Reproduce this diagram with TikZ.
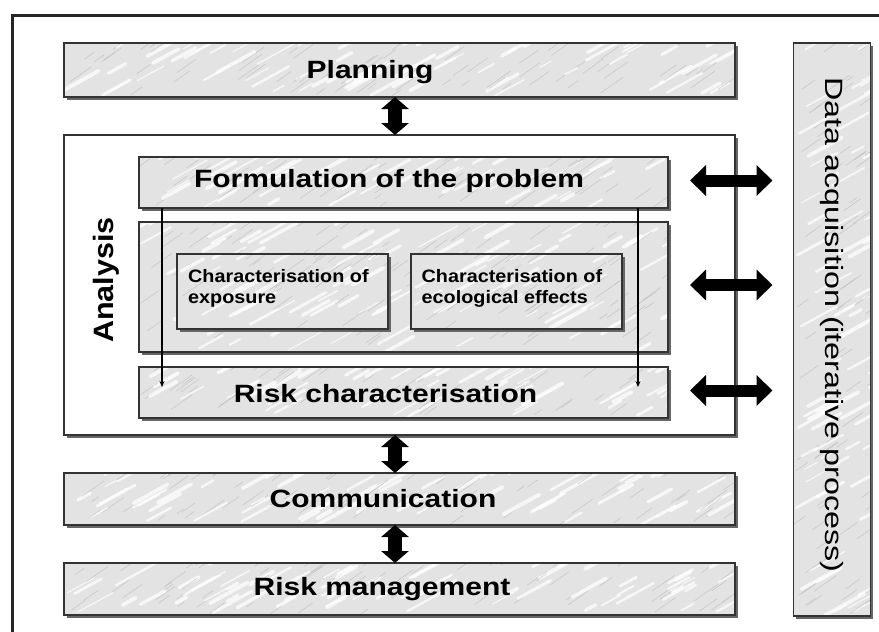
\documentclass[tikz,border=0pt]{standalone}
\usepackage{fontspec}
\setmainfont{Liberation Sans}
\usetikzlibrary{arrows.meta,shadows,calc}
\begin{document}
\begin{tikzpicture}[x=1pt,y=-1pt,
  marble/.style={rectangle, draw=black!80, line width=1.6pt, fill=black!11, inner sep=0pt, outer sep=0pt,
    drop shadow={shadow xshift=2.5pt, shadow yshift=-3pt, fill=black!60, opacity=1},
    path picture={
      \path (path picture bounding box.south west) coordinate (mSW) (path picture bounding box.north east) coordinate (mNE);
      \foreach \k in {1,...,#1}{
        \pgfmathsetmacro\mrU{rnd}\pgfmathsetmacro\mrV{rnd}\pgfmathsetmacro\mrL{10+30*rnd}\pgfmathsetmacro\mrW{1+3*rnd}
        \draw[white, line width=\mrW pt, line cap=round, opacity=.75] let \p1=(mSW), \p2=(mNE) in ({\x1+\mrU*(\x2-\x1)},{\y1+\mrV*(\y2-\y1)}) -- ++({\mrL*1pt},{0.55*\mrL*1pt});
        \pgfmathsetmacro\mrU{rnd}\pgfmathsetmacro\mrV{rnd}\pgfmathsetmacro\mrL{6+18*rnd}
        \draw[black!30, line width=.6pt, line cap=round, opacity=.55] let \p1=(mSW), \p2=(mNE) in ({\x1+\mrU*(\x2-\x1)},{\y1+\mrV*(\y2-\y1)}) -- ++({\mrL*1pt},{0.7*\mrL*1pt});
      }
    }},
  marble/.default=40,
  plainbox/.style={rectangle, draw=black!80, line width=1.6pt, fill=white, inner sep=0pt, outer sep=0pt,
    drop shadow={shadow xshift=2.5pt, shadow yshift=-3pt, fill=black!60, opacity=1}},
  bigtext/.style={font=\fontsize{25}{28}\selectfont\bfseries, inner sep=0pt, anchor=base},
  smalltext/.style={font=\fontsize{18}{21.6}\selectfont\bfseries, inner sep=0pt, anchor=north west},
  fatv/.style={line width=14pt, {Triangle[width=27pt,length=12pt]}-{Triangle[width=27pt,length=12pt]}},
  fath/.style={line width=12pt, {Triangle[width=30pt,length=16pt]}-{Triangle[width=30pt,length=16pt]}},
  thinarrow/.style={line width=1.2pt, -{Stealth[length=6pt,width=5pt]}},
  frameline/.style={line width=3pt, black!85}
]
\pgfmathsetseed{7}
\useasboundingbox (0,0) rectangle (879,632);
\fill[white] (0,0) rectangle (879,632);
\draw[frameline] (12,632) -- (12,15) -- (879,15);

\node[marble=70, minimum width=671pt, minimum height=54pt] (plan) at (399.5,70) {};
\node[bigtext] (plant) at (370,78) {\scalebox{1.2}[1]{Planning}};
\node[plainbox, minimum width=671pt, minimum height=300pt] (ana) at (399.5,285) {};
\node[marble=55, minimum width=529pt, minimum height=51pt] (form) at (403.5,182.5) {};
\node[bigtext] (formt) at (389,187) {\scalebox{1.2}[1]{Formulation of the problem}};
\node[marble=90, minimum width=529pt, minimum height=130pt] (mid) at (403.5,287) {};
\node[marble=55, minimum width=529pt, minimum height=51pt] (risk) at (403.5,392.5) {};
\node[bigtext] (riskt) at (385.5,402) {\scalebox{1.2}[1]{Risk characterisation}};
\node[marble=30, minimum width=211pt, minimum height=75pt] (expo) at (282.5,291.5) {};
\node[smalltext] (expot) at (188,267) {\scalebox{1.1}[1]{\begin{tabular}{@{}l@{}}Characterisation of\\exposure\end{tabular}}};
\node[marble=30, minimum width=211pt, minimum height=75pt] (eco) at (516.5,291.5) {};
\node[smalltext] (ecot) at (421.5,267) {\scalebox{1.1}[1]{\begin{tabular}{@{}l@{}}Characterisation of\\ecological effects\end{tabular}}};

\draw[thinarrow] ([xshift=23pt]form.south west) -- ([xshift=23pt,yshift=-20pt]risk.north west);
\draw[thinarrow] ([xshift=-30pt]form.south east) -- ([xshift=-30pt,yshift=-20pt]risk.north east);

\node[marble=70, minimum width=671pt, minimum height=52pt] (comm) at (399.5,499) {};
\node[bigtext] (commt) at (383,507) {\scalebox{1.2}[1]{Communication}};
\node[marble=70, minimum width=671pt, minimum height=52pt] (rm) at (399.5,589) {};
\node[bigtext] (rmt) at (382,595) {\scalebox{1.2}[1]{Risk management}};
\node[marble=70, minimum width=77pt, minimum height=573pt] (data) at (832,329.5) {};
\node[rotate=-90, anchor=base, inner sep=0pt, font=\fontsize{25}{28}\selectfont] (datat) at (825,325) {\scalebox{1.29}[1]{Data acquisition (iterative process)}};
\node[rotate=90, anchor=base, inner sep=0pt, font=\fontsize{28}{30}\selectfont\bfseries] (anat) at (113,280) {\scalebox{1.09}[1]{Analysis}};

\draw[fatv] ([xshift=-4.5pt]plan.south) -- ([xshift=-4.5pt]ana.north);
\draw[fatv] ([xshift=-4.5pt]ana.south) -- ([xshift=-4.5pt]comm.north);
\draw[fatv] ([xshift=-4.5pt]comm.south) -- ([xshift=-4.5pt]rm.north);

\draw[fath] ([xshift=22pt,yshift=2pt]form.east) -- ([xshift=-21pt,yshift=2pt]form.east -| data.west);
\draw[fath] ([xshift=22pt,yshift=2pt]mid.east) -- ([xshift=-21pt,yshift=2pt]mid.east -| data.west);
\draw[fath] ([xshift=22pt,yshift=2pt]risk.east) -- ([xshift=-21pt,yshift=2pt]risk.east -| data.west);
\end{tikzpicture}
\end{document}
